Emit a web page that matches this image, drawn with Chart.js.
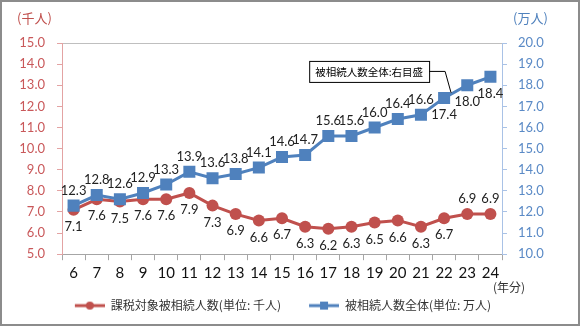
<!DOCTYPE html>
<html>
<head>
<meta charset="utf-8">
<script src="https://cdn.jsdelivr.net/npm/chart.js@4"></script>
<style>
  body { margin: 0; background: #fff; }
  #wrap { width: 580px; height: 326px; }
</style>
</head>
<body>
<div id="wrap"><canvas id="myChart" width="580" height="326"></canvas></div>
<script>
var years = ["6", "7", "8", "9", "10", "11", "12", "13", "14", "15", "16", "17", "18", "19", "20", "21", "22", "23", "24"];
var taxable = [7.1, 7.6, 7.5, 7.6, 7.6, 7.9, 7.3, 6.9, 6.6, 6.7, 6.3, 6.2, 6.3, 6.5, 6.6, 6.3, 6.7, 6.9, 6.9];
var total = [12.3, 12.8, 12.6, 12.9, 13.3, 13.9, 13.6, 13.8, 14.1, 14.6, 14.7, 15.6, 15.6, 16.0, 16.4, 16.6, 17.4, 18.0, 18.4];
var seriesNames = ["課税対象被相続人数(単位: 千人)", "被相続人数全体(単位: 万人)"];
var leftTicks = [5, 15, 1];
var rightTicks = [10, 20, 1];

var red = "#c0504d";
var blue = "#4f81bd";
var numFont = "Lato, 'Liberation Sans', sans-serif";
var jpFont = "'Noto Sans CJK JP', sans-serif";

// legend symbols: blank gap on the left, then a line with a marker in the middle
function legendIcon(color, square) {
  var c = document.createElement("canvas");
  c.width = 48; c.height = 12;
  var g = c.getContext("2d");
  g.strokeStyle = color; g.lineWidth = 3;
  g.beginPath(); g.moveTo(18, 6); g.lineTo(48, 6); g.stroke();
  g.fillStyle = color;
  if (square) g.fillRect(29, 2, 8, 8);
  else { g.beginPath(); g.arc(33, 6, 4, 0, Math.PI * 2); g.fill(); }
  return c;
}
var icons = [legendIcon(red, false), legendIcon(blue, true)];

// value labels; which points get their label on the other side
var redAbove = [17, 18];
var blueBelow = [16, 17, 18];

var extras = {
  id: "extras",
  afterDatasetsDraw: function (chart) {
    var ctx = chart.ctx;
    ctx.save();
    ctx.font = "13px " + numFont;
    ctx.fillStyle = "#222";
    ctx.textAlign = "center";
    ctx.textBaseline = "middle";
    chart.data.datasets.forEach(function (ds, di) {
      var meta = chart.getDatasetMeta(di);
      meta.data.forEach(function (pt, i) {
        var below = di === 0 ? redAbove.indexOf(i) < 0 : blueBelow.indexOf(i) >= 0;
        ctx.fillText(ds.data[i].toFixed(1), pt.x, pt.y + (below ? 17 : -15));
      });
    });

    // callout for the right-hand scale
    var p = chart.getDatasetMeta(1).data[16];
    ctx.font = "10.5px " + jpFont;
    var txt = "被相続人数全体:右目盛";
    var w = ctx.measureText(txt).width + 12;
    var bx = p.x - 15 - w, by = p.y - 37, bh = 21;
    ctx.strokeStyle = "#000";
    ctx.lineWidth = 1;
    ctx.beginPath();
    ctx.moveTo(p.x - 15, by + bh / 2);
    ctx.lineTo(p.x + 1, by + bh / 2);
    ctx.lineTo(p.x + 7, p.y - 5);
    ctx.stroke();
    ctx.fillStyle = "#fff";
    ctx.fillRect(bx, by, w, bh);
    ctx.strokeRect(bx + 0.5, by + 0.5, w, bh);
    ctx.fillStyle = "#000";
    ctx.fillText(txt, bx + w / 2, by + bh / 2 + 1);
    ctx.restore();
  },
  afterDraw: function (chart) {
    var ctx = chart.ctx;
    ctx.save();
    ctx.font = "13px " + jpFont;
    ctx.textBaseline = "middle";
    ctx.textAlign = "left";
    ctx.fillStyle = red;
    ctx.fillText("(千人)", 17, 18);
    ctx.fillStyle = blue;
    ctx.fillText("(万人)", 513, 18);
    ctx.font = "12px " + jpFont;
    ctx.fillStyle = "#333";
    ctx.fillText("(年分)", 493, 287);
    ctx.strokeStyle = "#8c8c8c";
    ctx.lineWidth = 2;
    ctx.strokeRect(1, 1, 578, 324);
    ctx.restore();
  }
};

new Chart("myChart", {
  type: "line",
  data: {
    labels: years,
    datasets: [{
      label: seriesNames[0],
      data: taxable,
      yAxisID: "y",
      borderColor: red,
      backgroundColor: red,
      borderWidth: 3,
      pointStyle: "circle",
      pointRadius: 6,
      pointBorderWidth: 0,
      order: 1
    }, {
      label: seriesNames[1],
      data: total,
      yAxisID: "y1",
      borderColor: blue,
      backgroundColor: blue,
      borderWidth: 3,
      pointStyle: "rect",
      pointRadius: 8.5,
      pointBorderWidth: 0,
      order: 0
    }]
  },
  plugins: [extras],
  options: {
    responsive: false,
    animation: false,
    layout: { padding: { top: 43, left: 0, right: 32, bottom: 4.4 } },
    plugins: {
      tooltip: { enabled: false },
      legend: {
        position: "bottom",
        labels: {
          usePointStyle: true,
          pointStyleWidth: 48,
          padding: 10,
          color: "#333",
          font: { family: jpFont, size: 12 },
          sort: function (a, b) { return a.datasetIndex - b.datasetIndex; },
          generateLabels: function (chart) {
            return chart.data.datasets.map(function (ds, i) {
              return { text: ds.label, pointStyle: icons[i], datasetIndex: i, lineWidth: 0, strokeStyle: "transparent", fillStyle: ds.borderColor, fontColor: "#333" };
            });
          }
        }
      }
    },
    scales: {
      x: {
        offset: true,
        afterFit: function (s) { s.height = 35.4; },
        grid: { offset: true, drawOnChartArea: false, color: "#a6a6a6", tickLength: 6 },
        border: { color: "#a6a6a6" },
        ticks: { color: "#111", font: { family: numFont, size: 15 }, padding: 4, maxRotation: 0 }
      },
      y: {
        position: "left",
        min: leftTicks[0], max: leftTicks[1],
        afterFit: function (s) { s.width = 62; },
        grid: {
          color: function (c) { return c.tick && c.tick.value === leftTicks[1] ? "#bfbfbf" : "rgba(0,0,0,0)"; },
          tickColor: "#e3a3a3",
          tickLength: 5
        },
        border: { color: "#e3a3a3" },
        ticks: {
          stepSize: leftTicks[2],
          color: "#c9585a",
          padding: 12,
          font: { family: numFont, size: 13 },
          callback: function (v) { return v.toFixed(1); }
        }
      },
      y1: {
        position: "right",
        min: rightTicks[0], max: rightTicks[1],
        afterFit: function (s) { s.width = 46; },
        grid: { drawOnChartArea: false, color: "#a9c2e6", tickLength: 5 },
        border: { color: "#a9c2e6" },
        ticks: {
          stepSize: rightTicks[2],
          color: "#5a8ac6",
          padding: 11,
          font: { family: numFont, size: 13 },
          callback: function (v) { return v.toFixed(1); }
        }
      }
    }
  }
});
</script>
</body>
</html>
